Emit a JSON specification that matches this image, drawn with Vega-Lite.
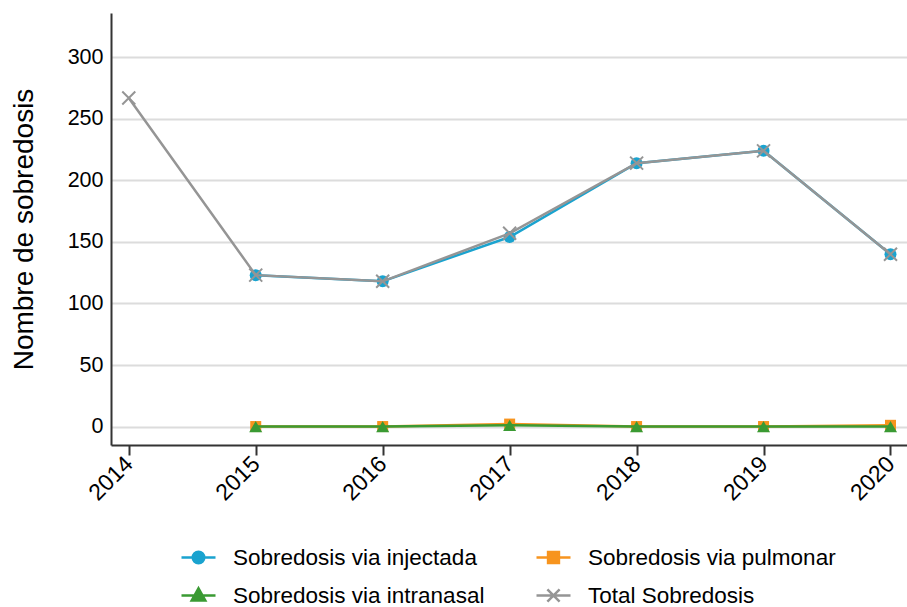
{
  "$schema": "https://vega.github.io/schema/vega-lite/v6.json",
  "width": 796,
  "height": 432,
  "autosize": {"type": "none"},
  "padding": {"left": 111, "top": 13, "right": 0, "bottom": 162},
  "background": "white",
  "config": {
    "font": "Liberation Sans",
    "view": {"stroke": null},
    "legend": {
      "orient": "none",
      "direction": "horizontal",
      "legendX": 69,
      "legendY": 526,
      "columns": 2,
      "padding": 0,
      "symbolSize": 1156,
      "symbolStrokeWidth": 2.5,
      "symbolOpacity": 1,
      "labelFontSize": 22.5,
      "labelFont": "Liberation Sans",
      "labelColor": "#000000",
      "labelOffset": 16,
      "labelLimit": 500,
      "columnPadding": 46,
      "rowPadding": 8,
      "title": null
    }
  },
  "data": {
    "values": [
      {"year": 2014, "series": "Total Sobredosis", "value": 267},
      {"year": 2015, "series": "Total Sobredosis", "value": 123},
      {"year": 2016, "series": "Total Sobredosis", "value": 118},
      {"year": 2017, "series": "Total Sobredosis", "value": 157},
      {"year": 2018, "series": "Total Sobredosis", "value": 214},
      {"year": 2019, "series": "Total Sobredosis", "value": 224},
      {"year": 2020, "series": "Total Sobredosis", "value": 140},
      {"year": 2015, "series": "Sobredosis via injectada", "value": 123},
      {"year": 2016, "series": "Sobredosis via injectada", "value": 118},
      {"year": 2017, "series": "Sobredosis via injectada", "value": 154},
      {"year": 2018, "series": "Sobredosis via injectada", "value": 214},
      {"year": 2019, "series": "Sobredosis via injectada", "value": 224},
      {"year": 2020, "series": "Sobredosis via injectada", "value": 140},
      {"year": 2015, "series": "Sobredosis via pulmonar", "value": 0},
      {"year": 2016, "series": "Sobredosis via pulmonar", "value": 0},
      {"year": 2017, "series": "Sobredosis via pulmonar", "value": 2},
      {"year": 2018, "series": "Sobredosis via pulmonar", "value": 0},
      {"year": 2019, "series": "Sobredosis via pulmonar", "value": 0},
      {"year": 2020, "series": "Sobredosis via pulmonar", "value": 1},
      {"year": 2015, "series": "Sobredosis via intranasal", "value": 0},
      {"year": 2016, "series": "Sobredosis via intranasal", "value": 0},
      {"year": 2017, "series": "Sobredosis via intranasal", "value": 1},
      {"year": 2018, "series": "Sobredosis via intranasal", "value": 0},
      {"year": 2019, "series": "Sobredosis via intranasal", "value": 0},
      {"year": 2020, "series": "Sobredosis via intranasal", "value": 0}
    ]
  },
  "encoding": {
    "x": {
      "field": "year",
      "type": "quantitative",
      "scale": {"domain": [2013.86, 2020.13], "nice": false, "zero": false},
      "axis": {
        "values": [2014, 2015, 2016, 2017, 2018, 2019, 2020],
        "format": "d",
        "title": null,
        "grid": false,
        "labelAngle": -45,
        "labelAlign": "right",
        "labelBaseline": "middle",
        "labelFontSize": 23,
        "labelColor": "#000000",
        "labelPadding": 5,
        "tickSize": 10,
        "tickWidth": 2,
        "tickColor": "#333333",
        "domainColor": "#333333",
        "domainWidth": 2,
        "labelFlush": false,
        "labelOverlap": false
      }
    },
    "y": {
      "field": "value",
      "type": "quantitative",
      "scale": {"domain": [-15, 336], "nice": false, "zero": false},
      "axis": {
        "values": [0, 50, 100, 150, 200, 250, 300],
        "title": "Nombre de sobredosis",
        "titleFontSize": 28,
        "titleFontWeight": "normal",
        "titleColor": "#000000",
        "titlePadding": 29,
        "grid": true,
        "gridColor": "#dcdcdc",
        "gridWidth": 2,
        "ticks": false,
        "labelFontSize": 21.5,
        "labelColor": "#000000",
        "labelPadding": 8,
        "domainColor": "#333333",
        "domainWidth": 2,
        "labelFlush": false,
        "labelOverlap": false
      }
    }
  },
  "layer": [
    {
      "transform": [{"filter": "datum.series === 'Sobredosis via pulmonar'"}],
      "mark": {"type": "line", "color": "#F7941E", "strokeWidth": 2.5}
    },
    {
      "transform": [{"filter": "datum.series === 'Sobredosis via pulmonar'"}],
      "mark": {"type": "point", "shape": "square", "filled": true, "color": "#F7941E", "size": 121, "opacity": 1}
    },
    {
      "transform": [{"filter": "datum.series === 'Sobredosis via intranasal'"}],
      "mark": {"type": "line", "color": "#3A9A33", "strokeWidth": 2.5}
    },
    {
      "transform": [{"filter": "datum.series === 'Sobredosis via intranasal'"}],
      "mark": {"type": "point", "shape": "triangle-up", "filled": true, "color": "#3A9A33", "size": 170, "opacity": 1}
    },
    {
      "transform": [{"filter": "datum.series === 'Sobredosis via injectada'"}],
      "mark": {"type": "line", "color": "#1AA3CF", "strokeWidth": 2.5}
    },
    {
      "transform": [{"filter": "datum.series === 'Sobredosis via injectada'"}],
      "mark": {"type": "point", "shape": "circle", "filled": true, "color": "#1AA3CF", "size": 144, "opacity": 1}
    },
    {
      "transform": [{"filter": "datum.series === 'Total Sobredosis'"}],
      "mark": {"type": "line", "color": "#959595", "strokeWidth": 2.5}
    },
    {
      "transform": [{"filter": "datum.series === 'Total Sobredosis'"}],
      "mark": {"type": "point", "shape": "M-1,-1L1,1M-1,1L1,-1", "filled": false, "color": "#959595", "size": 169, "strokeWidth": 2, "opacity": 1}
    },
    {
      "mark": {"type": "point", "filled": true, "opacity": 0},
      "encoding": {
        "fill": {
          "field": "series",
          "type": "nominal",
          "scale": {
            "domain": ["Sobredosis via injectada", "Sobredosis via pulmonar", "Sobredosis via intranasal", "Total Sobredosis"],
            "range": ["#1AA3CF", "#F7941E", "#3A9A33", "#959595"]
          }
        },
        "stroke": {
          "field": "series",
          "type": "nominal",
          "scale": {
            "domain": ["Sobredosis via injectada", "Sobredosis via pulmonar", "Sobredosis via intranasal", "Total Sobredosis"],
            "range": ["#1AA3CF", "#F7941E", "#3A9A33", "#959595"]
          }
        },
        "shape": {
          "field": "series",
          "type": "nominal",
          "scale": {
            "domain": ["Sobredosis via injectada", "Sobredosis via pulmonar", "Sobredosis via intranasal", "Total Sobredosis"],
            "range": [
              "M-1,0H1M0.34,0A0.34,0.34 0 1,1 -0.34,0A0.34,0.34 0 1,1 0.34,0Z",
              "M-1,0H1M-0.32,-0.32H0.32V0.32H-0.32Z",
              "M-1,0H1M0,-0.42L0.4,0.3H-0.4Z",
              "M-1,0H1M-0.36,-0.36L0.36,0.36M-0.36,0.36L0.36,-0.36"
            ]
          }
        }
      }
    }
  ]
}
